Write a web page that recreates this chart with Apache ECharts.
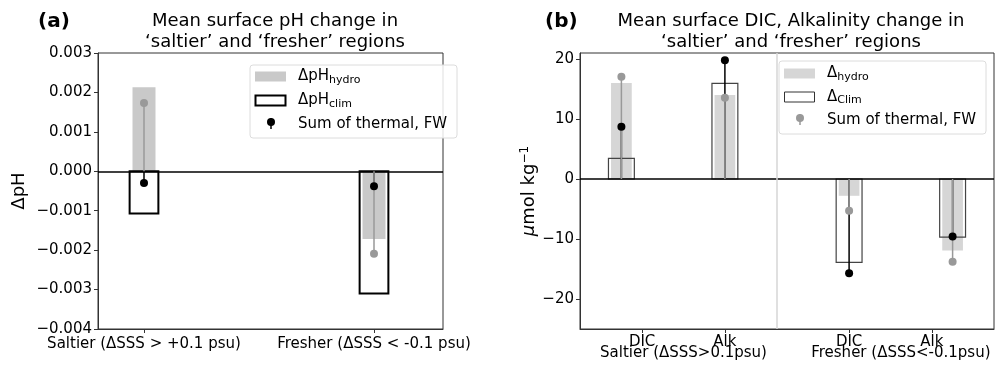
<!DOCTYPE html>
<html>
<head>
<meta charset="utf-8">
<script src="https://cdn.jsdelivr.net/npm/echarts@6/dist/echarts.min.js"></script>
<style>
  html, body { margin: 0; padding: 0; background: #fff; }
  #chart { width: 995px; height: 365px; }
</style>
</head>
<body>
<div id="chart"></div>
<script>
// panel (a): pH
const pHPos = [0, 1];
const pHLabels = ['Saltier (ΔSSS > +0.1 psu)', 'Fresher (ΔSSS < -0.1 psu)'];
const pHHydro = [0.00213, -0.00172];
const pHClim = [-0.00107, -0.0031];
const pHSumHydro = [0.00173, -0.00209];
const pHSumClim = [-0.0003, -0.00038];

// panel (b): DIC / Alkalinity
const carbPos = [0, 1, 2.2, 3.2];
const carbTickPos = [0.2, 1.0, 2.2, 3.0];
const carbTickLabels = ['DIC', 'Alk', 'DIC', 'Alk'];
const groupPos = [0.6, 2.7];
const groupLabels = ['Saltier (ΔSSS>0.1psu)', 'Fresher (ΔSSS<-0.1psu)'];
const carbHydro = [16.0, 14.0, -2.8, -11.9];
const carbClim = [3.45, 15.95, -13.9, -9.7];
const carbSumHydro = [17.05, 13.55, -5.3, -13.8];
const carbSumClim = [8.7, 19.8, -15.7, -9.6];
const carbTicksY = [-20, -10, 0, 10, 20];

const FONT = 'DejaVu Sans';

function pairs(xs, ys) {
  return xs.map((x, i) => [x, ys[i]]);
}

// rectangle from 0 to value, width in axis units
function barItem(w, style) {
  return function (params, api) {
    const x = api.value(0), y = api.value(1);
    const p0 = api.coord([x - w / 2, 0]);
    const p1 = api.coord([x + w / 2, y]);
    return {
      type: 'rect',
      shape: {
        x: Math.min(p0[0], p1[0]), y: Math.min(p0[1], p1[1]),
        width: Math.abs(p1[0] - p0[0]), height: Math.abs(p1[1] - p0[1])
      },
      style: Object.assign({}, style)
    };
  };
}

function stemItem(color, width) {
  return function (params, api) {
    const x = api.value(0), y = api.value(1);
    const p0 = api.coord([x, 0]);
    const p1 = api.coord([x, y]);
    return {
      type: 'line',
      shape: { x1: p0[0], y1: p0[1], x2: p1[0], y2: p1[1] },
      style: { stroke: color, lineWidth: width }
    };
  };
}

function panelSeries(ax, pos, hydro, clim, sumHydro, sumClim, cfg) {
  return [
    {
      type: 'custom', xAxisIndex: ax.x, yAxisIndex: ax.y,
      renderItem: barItem(cfg.hydroW, { fill: cfg.hydroColor }),
      encode: { x: 0, y: 1 }, data: pairs(pos, hydro), z: 2
    },
    {
      type: 'custom', xAxisIndex: ax.x, yAxisIndex: ax.y,
      renderItem: barItem(cfg.climW, { fill: 'none', stroke: cfg.climEdge, lineWidth: cfg.climLw }),
      encode: { x: 0, y: 1 }, data: pairs(pos, clim), z: 3
    },
    {
      type: 'custom', xAxisIndex: ax.x, yAxisIndex: ax.y,
      renderItem: stemItem('#000', 1.5),
      encode: { x: 0, y: 1 }, data: pairs(pos, sumClim), z: 4
    },
    {
      type: 'custom', xAxisIndex: ax.x, yAxisIndex: ax.y,
      renderItem: stemItem('#999', 1.5),
      encode: { x: 0, y: 1 }, data: pairs(pos, sumHydro), z: 5
    },
    {
      type: 'scatter', xAxisIndex: ax.x, yAxisIndex: ax.y,
      symbolSize: cfg.dot, itemStyle: { color: '#000', opacity: 1 },
      data: pairs(pos, sumClim), z: 6,
      markLine: {
        silent: true, symbol: 'none', label: { show: false },
        lineStyle: { color: '#000', width: 1.5, type: 'solid' },
        data: [{ yAxis: 0 }]
      }
    },
    {
      type: 'scatter', xAxisIndex: ax.x, yAxisIndex: ax.y,
      symbolSize: cfg.dot, itemStyle: { color: '#999', opacity: 1 },
      data: pairs(pos, sumHydro), z: 6
    }
  ];
}

const chart = echarts.init(document.getElementById('chart'));

const series = [].concat(
  panelSeries({ x: 0, y: 0 }, pHPos, pHHydro, pHClim, pHSumHydro, pHSumClim,
    { hydroW: 0.1, climW: 0.125, hydroColor: '#c9c9c9', climEdge: '#000', climLw: 2, dot: 8 }),
  panelSeries({ x: 1, y: 1 }, carbPos, carbHydro, carbClim, carbSumHydro, carbSumClim,
    { hydroW: 0.2, climW: 0.25, hydroColor: '#d6d6d6', climEdge: '#444', climLw: 1.2, dot: 8 })
);
// separator between saltier and fresher
series[11].markLine = {
  silent: true, symbol: 'none', label: { show: false },
  lineStyle: { color: '#d6d6d6', width: 1.5, type: 'solid' },
  data: [{ xAxis: 1.5 }]
};

const axisLineStyle = { show: true, onZero: false, lineStyle: { color: '#333', width: 1 } };
const tickStyle = { show: true, inside: false, length: 4, lineStyle: { color: '#333' } };
const labelStyle = { color: '#000', fontSize: 15, fontFamily: FONT, hideOverlap: false };

function minusFmt(s) { return String(s).replace('-', '\u2212'); }

function legendGraphics(x0, y0, hydroColor, climEdge, climLw, dotColor, hydroText, climText, rows) {
  return [
    {
      type: 'rect', z: 100,
      shape: { x: x0, y: y0, width: 207, height: 73, r: 3 },
      style: { fill: 'rgba(255,255,255,0.85)', stroke: '#dcdcdc', lineWidth: 1 }
    },
    {
      type: 'rect', z: 101,
      shape: { x: x0 + 5, y: rows[0] - 5, width: 31, height: 10 },
      style: { fill: hydroColor }
    },
    {
      type: 'text', z: 101, x: x0 + 48, y: rows[0],
      style: {
        text: hydroText, verticalAlign: 'middle',
        rich: {
          b: { fontSize: 15, fontFamily: FONT, fill: '#000' },
          s: { fontSize: 11, fontFamily: FONT, fill: '#000', padding: [7, 0, 0, 0] }
        }
      }
    },
    {
      type: 'rect', z: 101,
      shape: { x: x0 + 5.5, y: rows[1] - 5, width: 30, height: 10 },
      style: { fill: '#fff', stroke: climEdge, lineWidth: climLw }
    },
    {
      type: 'text', z: 101, x: x0 + 48, y: rows[1],
      style: {
        text: climText, verticalAlign: 'middle',
        rich: {
          b: { fontSize: 15, fontFamily: FONT, fill: '#000' },
          s: { fontSize: 11, fontFamily: FONT, fill: '#000', padding: [7, 0, 0, 0] }
        }
      }
    },
    {
      type: 'line', z: 101,
      shape: { x1: x0 + 21, y1: rows[2] - 4, x2: x0 + 21, y2: rows[2] + 7 },
      style: { stroke: dotColor, lineWidth: 1.5 }
    },
    {
      type: 'circle', z: 102,
      shape: { cx: x0 + 21, cy: rows[2], r: 4 },
      style: { fill: dotColor }
    },
    {
      type: 'text', z: 101, x: x0 + 48, y: rows[2] + 2,
      style: { text: 'Sum of thermal, FW', fontSize: 15, fontFamily: FONT, fill: '#000', verticalAlign: 'middle' }
    }
  ];
}

chart.setOption({
  animation: false,
  textStyle: { fontFamily: FONT },
  title: [
    {
      text: 'Mean surface pH change in\n‘saltier’ and ‘fresher’ regions',
      left: 270, top: 6, textAlign: 'center',
      textStyle: { fontSize: 18, fontWeight: 'normal', color: '#000', lineHeight: 21, fontFamily: FONT }
    },
    {
      text: 'Mean surface DIC, Alkalinity change in\n‘saltier’ and ‘fresher’ regions',
      left: 786, top: 6, textAlign: 'center',
      textStyle: { fontSize: 18, fontWeight: 'normal', color: '#000', lineHeight: 21, fontFamily: FONT }
    },
    {
      text: '(a)', left: 33, top: 7,
      textStyle: { fontSize: 20, fontWeight: 'bold', color: '#000', fontFamily: FONT }
    },
    {
      text: '(b)', left: 540, top: 7,
      textStyle: { fontSize: 20, fontWeight: 'bold', color: '#000', fontFamily: FONT }
    }
  ],
  grid: [
    { left: 98, top: 53, width: 345, height: 276, show: true, borderColor: '#333', borderWidth: 1, backgroundColor: 'transparent', outerBoundsMode: 'none' },
    { left: 580, top: 53, width: 414, height: 276, show: true, borderColor: '#333', borderWidth: 1, backgroundColor: 'transparent', outerBoundsMode: 'none' }
  ],
  xAxis: [
    {
      type: 'value', gridIndex: 0, min: -0.2, max: 1.3, position: 'bottom',
      axisLine: axisLineStyle, splitLine: { show: false },
      axisTick: Object.assign({ customValues: pHPos }, tickStyle),
      axisLabel: Object.assign({
        customValues: pHPos, margin: 8,
        formatter: v => pHLabels[pHPos.indexOf(v)] || ''
      }, labelStyle)
    },
    {
      type: 'value', gridIndex: 1, min: -0.4, max: 3.6, position: 'bottom',
      axisLine: axisLineStyle, splitLine: { show: false },
      axisTick: Object.assign({ customValues: carbTickPos }, tickStyle),
      axisLabel: Object.assign({
        customValues: carbTickPos, margin: 6,
        formatter: v => carbTickLabels[carbTickPos.indexOf(v)] || ''
      }, labelStyle)
    },
    {
      type: 'value', gridIndex: 1, min: -0.4, max: 3.6, position: 'bottom',
      axisLine: { show: false, onZero: false }, axisTick: { show: false }, splitLine: { show: false },
      axisLabel: Object.assign({
        customValues: groupPos, margin: 17,
        formatter: v => groupLabels[groupPos.indexOf(v)] || ''
      }, labelStyle)
    }
  ],
  yAxis: [
    {
      type: 'value', gridIndex: 0, min: -0.004, max: 0.003, interval: 0.001, position: 'left',
      axisLine: axisLineStyle, splitLine: { show: false }, axisTick: tickStyle,
      axisLabel: Object.assign({
        margin: 6,
        formatter: v => minusFmt(Math.abs(v) < 1e-9 ? '0.000' : v.toFixed(3))
      }, labelStyle),
      name: 'ΔpH', nameLocation: 'middle', nameGap: 70,
      nameTextStyle: { fontSize: 18, color: '#000', fontFamily: FONT }
    },
    {
      type: 'value', gridIndex: 1, min: -25, max: 21, position: 'left',
      axisLine: axisLineStyle, splitLine: { show: false },
      axisTick: Object.assign({ customValues: carbTicksY }, tickStyle),
      axisLabel: Object.assign({
        customValues: carbTicksY, margin: 6,
        formatter: v => minusFmt(v)
      }, labelStyle),
      name: '{i|μ}mol kg{sup|\u22121}', nameLocation: 'middle', nameGap: 40,
      nameTextStyle: {
        fontSize: 18, color: '#000', fontFamily: FONT,
        rich: {
          i: { fontSize: 18, fontStyle: 'italic', fontFamily: FONT, color: '#000' },
          sup: { fontSize: 12, fontFamily: FONT, color: '#000', padding: [0, 0, 9, 0] }
        }
      }
    }
  ],
  series: series,
  graphic: [].concat(
    legendGraphics(250, 65, '#c9c9c9', '#000', 2, '#000',
      '{b|ΔpH}{s|hydro}', '{b|ΔpH}{s|clim}', [76.5, 100.5, 122]),
    legendGraphics(779, 61, '#d6d6d6', '#333', 1, '#999',
      '{b|Δ}{s|hydro}', '{b|Δ}{s|Clim}', [73.5, 97, 118])
  )
});
</script>
</body>
</html>
